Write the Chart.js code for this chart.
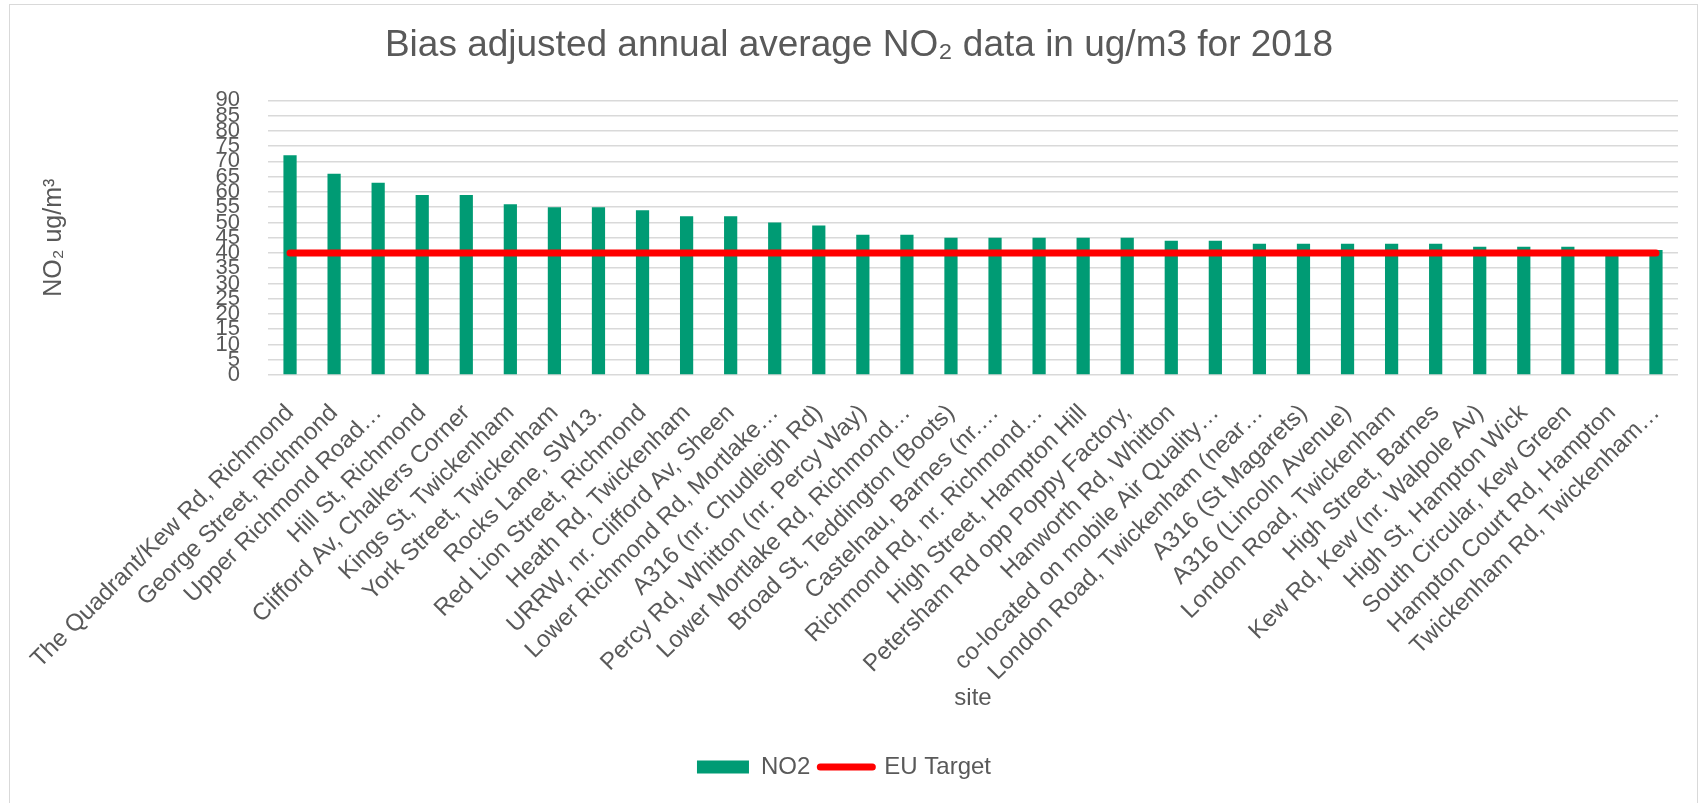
<!DOCTYPE html>
<html>
<head>
<meta charset="utf-8">
<title>Bias adjusted annual average NO2 data in ug/m3 for 2018</title>
<script src="https://cdn.jsdelivr.net/npm/chart.js@4.4.1/dist/chart.umd.min.js"></script>
<style>
    html, body { margin: 0; padding: 0; background: #fff; overflow: hidden; }
    #wrap { position: relative; width: 1702px; height: 803px; }
    #frame { position: absolute; left: 9px; top: 4px; width: 1687px; height: 900px; border: 1px solid #d9d9d9; pointer-events: none; }
    canvas { position: absolute; left: 0; top: 0; }
</style>
</head>
<body>
<div id="wrap">
    <canvas id="no2Chart" width="1702" height="803"></canvas>
    <div id="frame"></div>
</div>
<script>
// Sites (as truncated in the original chart)
const sites = [
    'The Quadrant/Kew Rd, Richmond',
    'George Street, Richmond',
    'Upper Richmond Road…',
    'Hill St, Richmond',
    'Clifford Av, Chalkers Corner',
    'Kings St, Twickenham',
    'York Street, Twickenham',
    'Rocks Lane, SW13.',
    'Red Lion Street, Richmond',
    'Heath Rd, Twickenham',
    'URRW, nr. Clifford Av, Sheen',
    'Lower Richmond Rd, Mortlake…',
    'A316 (nr. Chudleigh Rd)',
    'Percy Rd, Whitton (nr. Percy Way)',
    'Lower Mortlake Rd, Richmond…',
    'Broad St, Teddington (Boots)',
    'Castelnau, Barnes (nr.…',
    'Richmond Rd, nr. Richmond…',
    'High Street, Hampton Hill',
    'Petersham Rd opp Poppy Factory,',
    'Hanworth Rd, Whitton',
    'co-located on mobile Air Quality…',
    'London Road, Twickenham (near…',
    'A316 (St Magarets)',
    'A316 (Lincoln Avenue)',
    'London Road, Twickenham',
    'High Street, Barnes',
    'Kew Rd, Kew (nr. Walpole Av)',
    'High St, Hampton Wick',
    'South Circular, Kew Green',
    'Hampton Court Rd, Hampton',
    'Twickenham Rd, Twickenham…'
];

// Bias adjusted annual mean NO2 (ug/m3)
const no2Values = [72, 66, 63, 59, 59, 56, 55, 55, 54, 52, 52, 50, 49, 46, 46, 45,
                   45, 45, 45, 45, 44, 44, 43, 43, 43, 43, 43, 42, 42, 42, 40, 41];

// EU annual mean limit
const euTarget = [40, 40, 40, 40, 40, 40, 40, 40, 40, 40, 40, 40, 40, 40, 40, 40,
                  40, 40, 40, 40, 40, 40, 40, 40, 40, 40, 40, 40, 40, 40, 40, 40];

// Y axis range
const yMin = 0;
const yMax = 90;
const yStep = 5;

const textColor = '#595959';
const fontFamily = '"Liberation Sans", Arial, sans-serif';
const barColor = '#009B74';
const lineColor = '#FF0000';

// nudge the title a little to the right, like the original
const titleShift = {
    id: 'titleShift',
    afterLayout(chart) {
        if (chart.titleBlock) {
            chart.titleBlock.left += 30;
        }
    }
};

document.addEventListener('DOMContentLoaded', () => {
    initChart();
});

function initChart() {
    const ctx = document.getElementById('no2Chart');
    new Chart(ctx, {
        type: 'bar',
        data: {
            labels: sites,
            datasets: [{
                label: 'NO2',
                data: no2Values,
                backgroundColor: barColor,
                borderWidth: 0,
                barPercentage: 0.3,
                categoryPercentage: 1.0,
                order: 1
            }, {
                type: 'line',
                label: 'EU Target',
                data: euTarget,
                borderColor: lineColor,
                backgroundColor: lineColor,
                borderWidth: 7,
                borderCapStyle: 'round',
                pointRadius: 0,
                fill: false,
                tension: 0,
                order: 0
            }]
        },
        plugins: [titleShift],
        options: {
            responsive: false,
            animation: false,
            layout: {
                padding: { left: 10, right: 24, top: 5, bottom: 14 }
            },
            plugins: {
                title: {
                    display: true,
                    text: 'Bias adjusted annual average NO₂ data in ug/m3 for 2018',
                    color: textColor,
                    font: { family: fontFamily, size: 37, weight: 'normal' },
                    padding: { top: 19, bottom: 32 }
                },
                legend: {
                    position: 'bottom',
                    labels: {
                        color: textColor,
                        font: { family: fontFamily, size: 24 },
                        usePointStyle: true,
                        pointStyleWidth: 52,
                        boxHeight: 13,
                        padding: 10,
                        generateLabels: function(chart) {
                            const items = Chart.defaults.plugins.legend.labels.generateLabels(chart);
                            items.sort((a, b) => a.datasetIndex - b.datasetIndex);
                            items.forEach(item => {
                                if (item.datasetIndex === 0) {
                                    item.pointStyle = 'rect';
                                    item.lineWidth = 0;
                                    item.fillStyle = barColor;
                                } else {
                                    item.pointStyle = 'line';
                                    item.lineWidth = 7;
                                    item.lineCap = 'round';
                                    item.strokeStyle = lineColor;
                                }
                            });
                            return items;
                        }
                    }
                },
                tooltip: { enabled: false }
            },
            scales: {
                x: {
                    grid: { display: false },
                    border: { display: false },
                    ticks: {
                        color: textColor,
                        font: { family: fontFamily, size: 24 },
                        autoSkip: false,
                        minRotation: 45,
                        maxRotation: 45,
                        padding: 16
                    },
                    title: {
                        display: true,
                        text: 'site',
                        color: textColor,
                        font: { family: fontFamily, size: 24 },
                        padding: { top: 0, bottom: 32 }
                    },
                    afterFit: function(scale) {
                        scale.height = 370;
                    }
                },
                y: {
                    min: yMin,
                    max: yMax,
                    grid: {
                        color: '#d9d9d9',
                        lineWidth: 1.5,
                        drawTicks: false
                    },
                    border: { display: false },
                    ticks: {
                        stepSize: yStep,
                        autoSkip: false,
                        color: textColor,
                        font: { family: fontFamily, size: 22 },
                        padding: 28
                    },
                    title: {
                        display: true,
                        text: 'NO₂ ug/m³',
                        color: textColor,
                        font: { family: fontFamily, size: 25 },
                        padding: { top: 29, bottom: 0 }
                    },
                    afterFit: function(scale) {
                        scale.width = 258;
                    }
                }
            }
        }
    });
}
</script>
</body>
</html>
